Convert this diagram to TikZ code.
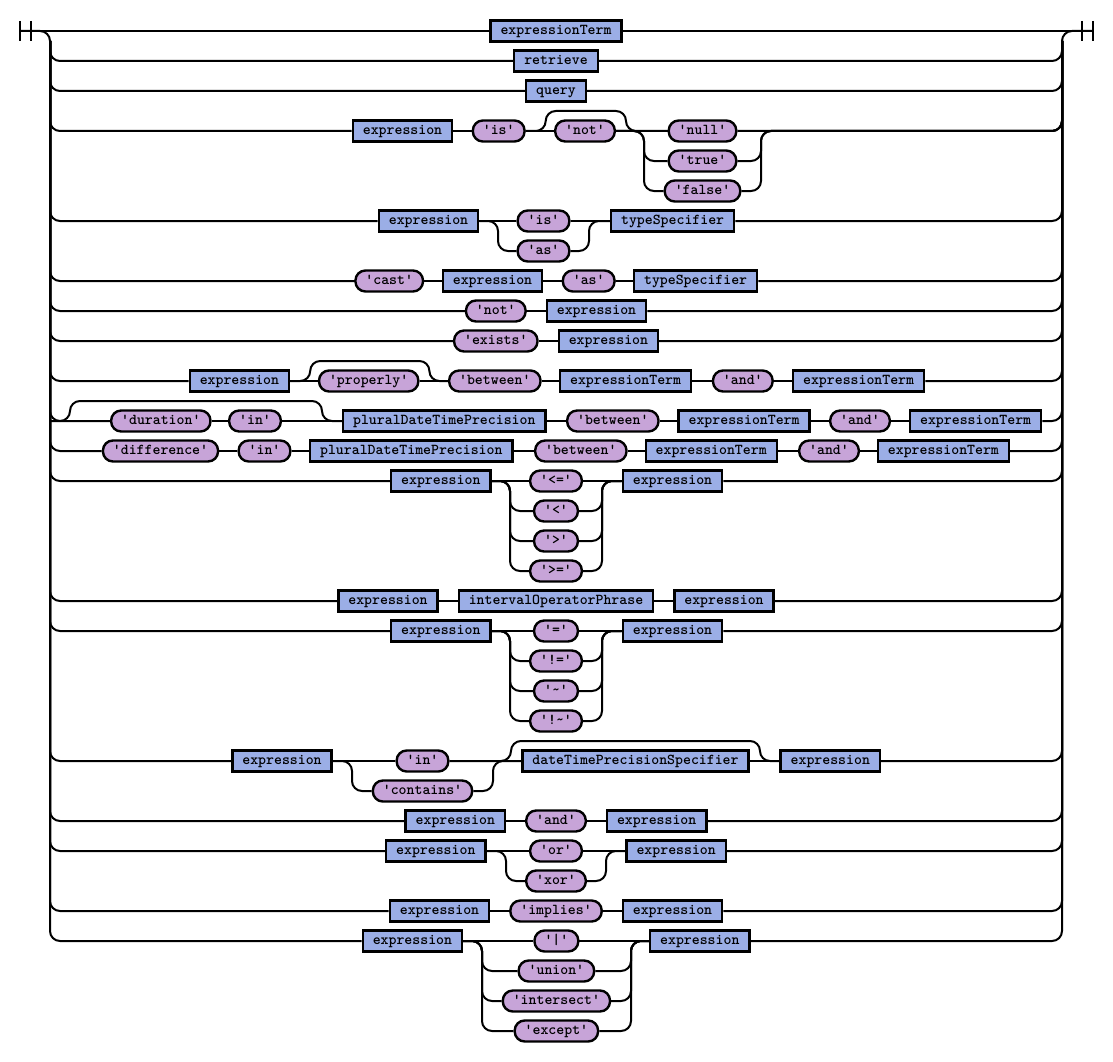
\documentclass[tikz,border=0pt]{standalone}
\usepackage{fontspec}
\definecolor{ntblue}{RGB}{155,174,230}
\definecolor{tmlilac}{RGB}{199,164,216}
\begin{document}
\begin{tikzpicture}[x=1pt,y=-1pt,line width=2pt,
  nt/.style={draw,fill=ntblue,line width=2.4pt,minimum height=21pt,inner xsep=10pt,inner ysep=0pt,text height=9pt,text depth=2.5pt,font=\fontsize{15.1}{16}\selectfont\ttfamily\bfseries},
  tm/.style={nt,fill=tmlilac,rounded corners=10pt},
  railway/.style={rounded corners=10pt}]
\path[use as bounding box] (0,0) rectangle (1113,1062);
\coordinate (entry) at (20,31);
\coordinate (exit) at (1093,31);
\coordinate (lrail) at (50,41);
\coordinate (rrail) at (1062,41);
\draw (entry) ++(0,-10) -- ++(0,20) (entry) ++(11,-10) -- ++(0,20);
\draw (exit) ++(0,-10) -- ++(0,20) (exit) ++(-11,-10) -- ++(0,20);
\draw[railway] (entry) -| (lrail);
\draw[railway] (exit) -| (rrail);
\node[nt] (t1) at (556,31) {expressionTerm};
\draw (entry) -- (t1.west);
\draw (t1.east) -- (exit);
\node[nt] (t2) at (556,61) {retrieve};
\draw[railway] (lrail) |- (t2.west);
\draw[railway] (t2.east) -| (rrail);
\node[nt] (t3) at (556,91) {query};
\draw[railway] (lrail) |- (t3.west);
\draw[railway] (t3.east) -| (rrail);
\node[nt] (a4) at (402.5,131) {expression};
\node[tm] (b4) at (498.7,131) {'is'};
\node[tm] (c4) at (585,131) {'not'};
\node[tm] (d4) at (702.5,131) {'null'};
\node[tm] (e4) at (702.5,161) {'true'};
\node[tm] (f4) at (702.5,191) {'false'};
\coordinate (p4) at (545.7,111);
\coordinate (q4) at (626,111);
\coordinate (l4) at (644,131);
\coordinate (k4) at (761,131);
\draw[railway] (lrail) |- (a4.west);
\draw (a4.east) -- (b4.west);
\draw (b4.east) -- (c4.west);
\draw[railway] (b4.east) -| (p4) -- (q4) |- (d4.west);
\draw (c4.east) -- (d4.west);
\draw[railway] (c4.east) -| (l4 |- e4.west) -- (e4.west);
\draw[railway] (c4.east) -| (l4 |- f4.west) -- (f4.west);
\draw[railway] (d4.east) -| (rrail);
\draw[railway] (e4.east) -| (k4) -| (rrail);
\draw[railway] (f4.east) -| (k4) -| (rrail);
\node[nt] (a5) at (428.5,221) {expression};
\node[tm] (b5) at (543.5,221) {'is'};
\node[tm] (c5) at (543.5,251) {'as'};
\node[nt] (d5) at (672.6,221) {typeSpecifier};
\coordinate (l5) at (498,221);
\coordinate (k5) at (589,221);
\draw[railway] (lrail) |- (a5.west);
\draw (a5.east) -- (b5.west);
\draw[railway] (a5.east) -| (l5 |- c5.west) -- (c5.west);
\draw (b5.east) -- (d5.west);
\draw[railway] (c5.east) -| (k5) -- (d5.west);
\draw[railway] (d5.east) -| (rrail);
\node[tm] (a6) at (389.2,281) {'cast'};
\node[nt] (b6) at (492.5,281) {expression};
\node[tm] (c6) at (588.7,281) {'as'};
\node[nt] (d6) at (695.6,281) {typeSpecifier};
\draw[railway] (lrail) |- (a6.west);
\draw (a6.east) -- (b6.west);
\draw (b6.east) -- (c6.west);
\draw (c6.east) -- (d6.west);
\draw[railway] (d6.east) -| (rrail);
\node[tm] (a7) at (495.8,311) {'not'};
\node[nt] (b7) at (596.5,311) {expression};
\draw[railway] (lrail) |- (a7.west);
\draw (a7.east) -- (b7.west);
\draw[railway] (b7.east) -| (rrail);
\node[tm] (a8) at (495.8,341) {'exists'};
\node[nt] (b8) at (608.4,341) {expression};
\draw[railway] (lrail) |- (a8.west);
\draw (a8.east) -- (b8.west);
\draw[railway] (b8.east) -| (rrail);
\node[nt] (a9) at (239.4,381) {expression};
\node[tm] (b9) at (368.7,381) {'properly'};
\node[tm] (c9) at (494.8,381) {'between'};
\node[nt] (d9) at (625.6,381) {expressionTerm};
\node[tm] (e9) at (742.8,381) {'and'};
\node[nt] (f9) at (858.6,381) {expressionTerm};
\coordinate (p9) at (310.2,361);
\coordinate (q9) at (429.4,361);
\draw[railway] (lrail) |- (a9.west);
\draw (a9.east) -- (b9.west);
\draw[railway] (a9.east) -| (p9) -- (q9) |- (c9.west);
\draw (b9.east) -- (c9.west);
\draw (c9.east) -- (d9.west);
\draw (d9.east) -- (e9.west);
\draw (e9.east) -- (f9.west);
\draw[railway] (f9.east) -| (rrail);
\node[tm] (a10) at (160.8,421) {'duration'};
\node[tm] (b10) at (255,421) {'in'};
\node[nt] (c10) at (444.3,421) {pluralDateTimePrecision};
\node[tm] (d10) at (612.8,421) {'between'};
\node[nt] (e10) at (744.1,421) {expressionTerm};
\node[tm] (f10) at (860,421) {'and'};
\node[nt] (g10) at (975.6,421) {expressionTerm};
\coordinate (p10) at (70,401);
\coordinate (q10) at (322,401);
\draw[railway] (lrail) |- (a10.west);
\draw[railway] (lrail |- a10.west) -| (p10) -- (q10) |- (c10.west);
\draw (a10.east) -- (b10.west);
\draw (b10.east) -- (c10.west);
\draw (c10.east) -- (d10.west);
\draw (d10.east) -- (e10.west);
\draw (e10.east) -- (f10.west);
\draw (f10.east) -- (g10.west);
\draw[railway] (g10.east) -| (rrail);
\node[tm] (a11) at (160.5,451) {'difference'};
\node[tm] (b11) at (264.5,451) {'in'};
\node[nt] (c11) at (411.3,451) {pluralDateTimePrecision};
\node[tm] (d11) at (580.8,451) {'between'};
\node[nt] (e11) at (711.2,451) {expressionTerm};
\node[tm] (f11) at (829,451) {'and'};
\node[nt] (g11) at (943.4,451) {expressionTerm};
\draw[railway] (lrail) |- (a11.west);
\draw (a11.east) -- (b11.west);
\draw (b11.east) -- (c11.west);
\draw (c11.east) -- (d11.west);
\draw (d11.east) -- (e11.west);
\draw (e11.east) -- (f11.west);
\draw (f11.east) -- (g11.west);
\draw[railway] (g11.east) -| (rrail);
\node[nt] (a12) at (440.8,481) {expression};
\node[tm] (b12) at (556,481) {'<='};
\node[tm] (c12) at (556,511) {'<'};
\node[tm] (d12) at (556,541) {'>'};
\node[tm] (e12) at (556,571) {'>='};
\node[nt] (f12) at (672.5,481) {expression};
\coordinate (l12) at (510,481);
\coordinate (k12) at (602,481);
\draw[railway] (lrail) |- (a12.west);
\draw (a12.east) -- (b12.west);
\draw[railway] (a12.east) -| (l12 |- c12.west) -- (c12.west);
\draw[railway] (a12.east) -| (l12 |- d12.west) -- (d12.west);
\draw[railway] (a12.east) -| (l12 |- e12.west) -- (e12.west);
\draw (b12.east) -- (f12.west);
\draw[railway] (c12.east) -| (k12) -- (f12.west);
\draw[railway] (d12.east) -| (k12) -- (f12.west);
\draw[railway] (e12.east) -| (k12) -- (f12.west);
\draw[railway] (f12.east) -| (rrail);
\node[nt] (a13) at (388,601) {expression};
\node[nt] (b13) at (556,601) {intervalOperatorPhrase};
\node[nt] (c13) at (724,601) {expression};
\draw[railway] (lrail) |- (a13.west);
\draw (a13.east) -- (b13.west);
\draw (b13.east) -- (c13.west);
\draw[railway] (c13.east) -| (rrail);
\node[nt] (a14) at (440.8,631) {expression};
\node[tm] (b14) at (556,631) {'='};
\node[tm] (c14) at (556,661) {'!='};
\node[tm] (d14) at (556,691) {'\textasciitilde'};
\node[tm] (e14) at (556,721) {'!\textasciitilde'};
\node[nt] (f14) at (672.5,631) {expression};
\coordinate (l14) at (510,631);
\coordinate (k14) at (602,631);
\draw[railway] (lrail) |- (a14.west);
\draw (a14.east) -- (b14.west);
\draw[railway] (a14.east) -| (l14 |- c14.west) -- (c14.west);
\draw[railway] (a14.east) -| (l14 |- d14.west) -- (d14.west);
\draw[railway] (a14.east) -| (l14 |- e14.west) -- (e14.west);
\draw (b14.east) -- (f14.west);
\draw[railway] (c14.east) -| (k14) -- (f14.west);
\draw[railway] (d14.east) -| (k14) -- (f14.west);
\draw[railway] (e14.east) -| (k14) -- (f14.west);
\draw[railway] (f14.east) -| (rrail);
\node[nt] (a15) at (282,761) {expression};
\node[tm] (b15) at (422.5,761) {'in'};
\node[tm] (c15) at (422.5,791) {'contains'};
\node[nt] (d15) at (635.5,761) {dateTimePrecisionSpecifier};
\node[nt] (e15) at (830.3,761) {expression};
\coordinate (l15) at (352,761);
\coordinate (k15) at (493,761);
\coordinate (p15) at (511,741);
\coordinate (q15) at (760,741);
\draw[railway] (lrail) |- (a15.west);
\draw (a15.east) -- (b15.west);
\draw[railway] (a15.east) -| (l15 |- c15.west) -- (c15.west);
\draw (b15.east) -- (d15.west);
\draw[railway] (c15.east) -| (k15) -- (d15.west);
\draw[railway] (b15.east) -| (p15) -- (q15) |- (e15.west);
\draw (d15.east) -- (e15.west);
\draw[railway] (e15.east) -| (rrail);
\node[nt] (a16) at (455.3,821) {expression};
\node[tm] (b16) at (556,821) {'and'};
\node[nt] (c16) at (656.7,821) {expression};
\draw[railway] (lrail) |- (a16.west);
\draw (a16.east) -- (b16.west);
\draw (b16.east) -- (c16.west);
\draw[railway] (c16.east) -| (rrail);
\node[nt] (a17) at (435.8,851) {expression};
\node[tm] (b17) at (556,851) {'or'};
\node[tm] (c17) at (556,881) {'xor'};
\node[nt] (d17) at (676.2,851) {expression};
\coordinate (l17) at (506,851);
\coordinate (k17) at (606,851);
\draw[railway] (lrail) |- (a17.west);
\draw (a17.east) -- (b17.west);
\draw[railway] (a17.east) -| (l17 |- c17.west) -- (c17.west);
\draw (b17.east) -- (d17.west);
\draw[railway] (c17.east) -| (k17) -- (d17.west);
\draw[railway] (d17.east) -| (rrail);
\node[nt] (a18) at (439.5,911) {expression};
\node[tm] (b18) at (556,911) {'implies'};
\node[nt] (c18) at (672.5,911) {expression};
\draw[railway] (lrail) |- (a18.west);
\draw (a18.east) -- (b18.west);
\draw (b18.east) -- (c18.west);
\draw[railway] (c18.east) -| (rrail);
\node[nt] (a19) at (412.4,941) {expression};
\node[tm] (b19) at (556.4,941) {'|'};
\node[tm] (c19) at (556.4,971) {'union'};
\node[tm] (d19) at (556.4,1001) {'intersect'};
\node[tm] (e19) at (556.4,1031) {'except'};
\node[nt] (f19) at (699.8,941) {expression};
\coordinate (l19) at (482,941);
\coordinate (k19) at (631,941);
\draw[railway] (lrail) |- (a19.west);
\draw (a19.east) -- (b19.west);
\draw[railway] (a19.east) -| (l19 |- c19.west) -- (c19.west);
\draw[railway] (a19.east) -| (l19 |- d19.west) -- (d19.west);
\draw[railway] (a19.east) -| (l19 |- e19.west) -- (e19.west);
\draw (b19.east) -- (f19.west);
\draw[railway] (c19.east) -| (k19) -- (f19.west);
\draw[railway] (d19.east) -| (k19) -- (f19.west);
\draw[railway] (e19.east) -| (k19) -- (f19.west);
\draw[railway] (f19.east) -| (rrail);
\end{tikzpicture}
\end{document}
